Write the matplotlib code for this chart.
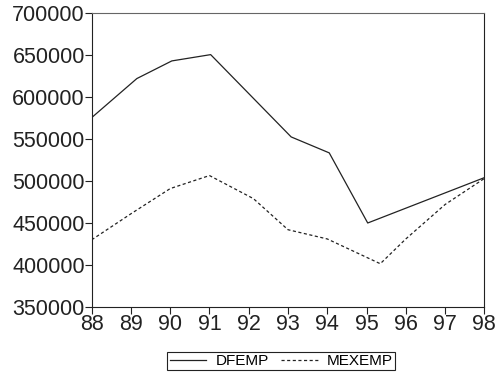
import matplotlib.pyplot as plt

plt.rcParams['font.family'] = ['Liberation Sans', 'DejaVu Sans']

# annual employment series (approximate read-off)
dfemp_x = [88.0, 89.15, 90.04, 91.03, 93.08, 94.05, 95.03, 98.0]
dfemp_y = [575500, 622000, 643000, 650500, 552500, 533500, 450000, 504000]

mexemp_x = [88.0, 89.0, 90.0, 91.0, 92.12, 93.0, 94.0, 95.35, 96.0, 97.0, 98.0]
mexemp_y = [430000, 461000, 491000, 506500, 479000, 442000, 431000, 401500, 431000, 472000, 503000]

year_ticks = list(range(88, 99))
y_ticks = list(range(350000, 700001, 50000))

fig = plt.figure(figsize=(4.97, 3.73), dpi=100, facecolor='white')
ax = fig.add_axes([0.1845, 0.177, 0.79, 0.788])

ax.plot(dfemp_x, dfemp_y, color='#222222', lw=0.9, label='DFEMP')
ax.plot(mexemp_x, mexemp_y, color='#222222', lw=0.9, linestyle=(0, (2.5, 2)), label='MEXEMP')

ax.set_xlim(88, 98)
ax.set_ylim(350000, 700000)
ax.set_xticks(year_ticks)
ax.set_yticks(y_ticks)
ax.tick_params(direction='out', length=5, width=0.8, labelsize=15.5, pad=0, colors='#222222')
for side in ['left', 'bottom', 'right']:
    ax.spines[side].set_color('#222222')
ax.spines['top'].set_color('#666666')

leg = fig.legend(loc='center', bbox_to_anchor=(0.566, 0.032), ncol=2, fontsize=11,
                 frameon=True, fancybox=False, edgecolor='#222222', framealpha=1,
                 handlelength=2.4, borderpad=0.15, borderaxespad=0, columnspacing=0.8,
                 handletextpad=0.6)
leg.get_frame().set_linewidth(0.8)

plt.savefig('out.png', dpi=100)
